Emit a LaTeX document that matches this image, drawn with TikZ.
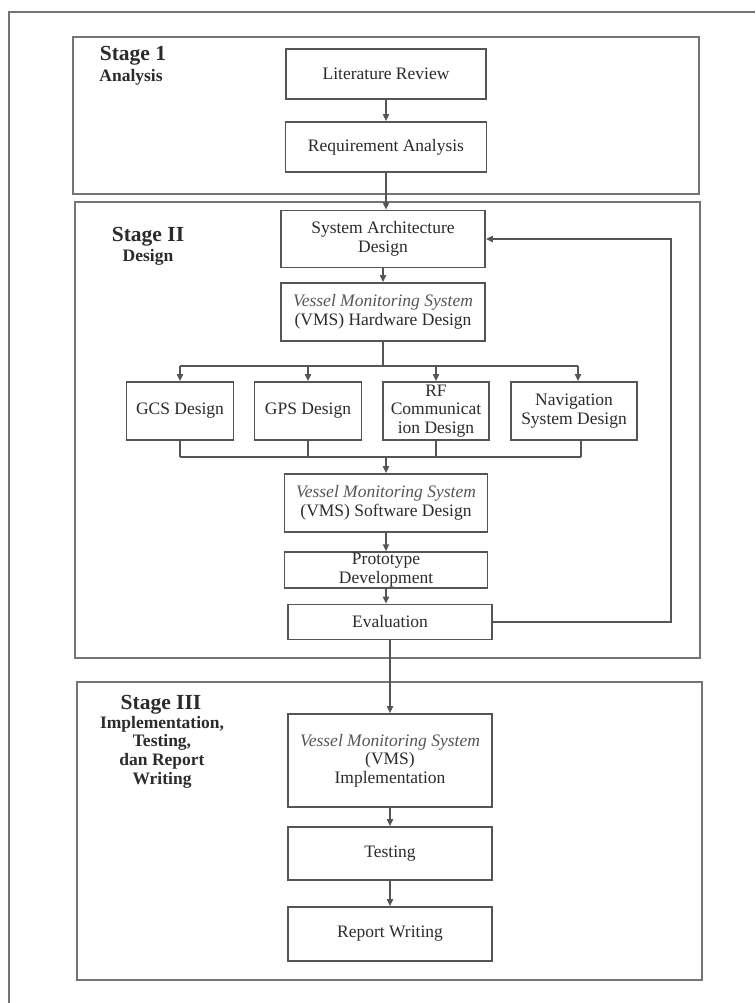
\documentclass[tikz,border=0pt]{standalone}
\usepackage{fontspec}
\setmainfont{Liberation Serif}
\usetikzlibrary{arrows.meta}
\definecolor{ln}{HTML}{555555}
\definecolor{fr}{HTML}{747474}
\definecolor{tx}{HTML}{2B2B2B}
\definecolor{it}{HTML}{555555}
\newcommand\bodyfnt{\fontsize{17.5}{18.6}\selectfont}
\newcommand\stagefnt{\fontsize{21.5}{24}\selectfont\bfseries}
\newcommand\subfnt{\fontsize{17.5}{18.7}\selectfont\bfseries}
\newcommand\vms{{\color{it}\itshape Vessel Monitoring System}}
\begin{document}
\begin{tikzpicture}[x=1pt,y=-1pt,
  box/.style={draw=ln, line width=1.6pt, fill=white, text=tx, align=center, inner sep=1pt, font=\bodyfnt},
  stagebox/.style={draw=fr, line width=1.8pt},
  frameline/.style={draw=fr, line width=1.6pt},
  conn/.style={draw=ln, line width=1.6pt},
  arr/.style={draw=ln, line width=1.6pt, -{Triangle[length=7pt,width=6pt]}},
  stagelbl/.style={text=tx, align=center, inner sep=0pt}]
\useasboundingbox (0,0) rectangle (755,1003);
\fill[white] (0,0) rectangle (755,1003);
% outer frame (only left and top visible)
\draw[frameline] (9,1003) -- (9,12) -- (755,12);
% stage boxes
\draw[stagebox] (73,37) rectangle (699,194);
\draw[stagebox] (75,202) rectangle (700,658);
\draw[stagebox] (77,682) rectangle (702,980);
% stage labels
\node[stagelbl, font=\stagefnt] (s1t) at (133,56) {Stage 1};
\node[stagelbl, font=\subfnt] (s1s) at (131,77) {Analysis};
\node[stagelbl, font=\stagefnt] (s2t) at (148,237) {Stage II};
\node[stagelbl, font=\subfnt] (s2s) at (148,257) {Design};
\node[stagelbl, font=\stagefnt] (s3t) at (161,705) {Stage III};
\node[stagelbl, font=\subfnt] (s3s) at (162,752) {Implementation,\\Testing,\\dan Report\\Writing};
% stage 1
\node[box, minimum width=200pt, minimum height=50pt] (lit) at (386,74) {Literature Review};
\node[box, minimum width=201pt, minimum height=50pt] (req) at (386,147) {Requirement Analysis};
% stage 2
\node[box, minimum width=204pt, minimum height=57pt] (sad) at (383,239) {System Architecture\\Design};
\node[box, minimum width=204pt, minimum height=58pt] (hw) at (383,312) {\vms\\(VMS) Hardware Design};
\node[box, minimum width=107pt, minimum height=58pt] (gcs) at (180,411) {GCS Design};
\node[box, minimum width=107pt, minimum height=58pt] (gps) at (308,411) {GPS Design};
\node[box, minimum width=106pt, minimum height=58pt] (rf) at (436,411) {RF\\Communicat\\ion Design};
\node[box, minimum width=126pt, minimum height=58pt] (nav) at (574,411) {Navigation\\System Design};
\node[box, minimum width=203pt, minimum height=58pt] (sw) at (386,503) {\vms\\(VMS) Software Design};
\node[box, minimum width=203pt, minimum height=35pt] (proto) at (386,570) {Prototype\\Development};
\node[box, minimum width=204pt, minimum height=35pt] (eval) at (390,622) {Evaluation};
% stage 3
\node[box, minimum width=204pt, minimum height=93pt] (impl) at (390,760.5) {\vms\\(VMS)\\Implementation};
\node[box, minimum width=204pt, minimum height=53pt] (test) at (390,853.5) {Testing};
\node[box, minimum width=204pt, minimum height=54pt] (rep) at (390,934) {Report Writing};
% helper coordinates
\coordinate (bl) at (180,366);
\coordinate (br) at (578,366);
\coordinate (ml) at (180,457);
\coordinate (mr) at (581,457);
\coordinate (fbx) at (671,430);
% connectors
\draw[arr] (lit.south) -- (lit.south |- req.north);
\draw[arr] (req.south) -- (req.south |- sad.north);
\draw[arr] (sad.south) -- (sad.south |- hw.north);
\draw[conn] (hw.south) -- (hw.south |- bl);
\draw[conn] (bl) -- (br);
\draw[arr] (bl) -- (bl |- gcs.north);
\draw[arr] (gps.north |- bl) -- (gps.north);
\draw[arr] (rf.north |- bl) -- (rf.north);
\draw[arr] (br) -- (br |- nav.north);
\draw[conn] (ml |- gcs.south) -- (ml);
\draw[conn] (gps.south) -- (gps.south |- ml);
\draw[conn] (rf.south) -- (rf.south |- ml);
\draw[conn] (mr |- nav.south) -- (mr);
\draw[conn] (ml) -- (mr);
\draw[arr] (sw.north |- ml) -- (sw.north);
\draw[arr] (sw.south) -- (sw.south |- proto.north);
\draw[arr] (proto.south) -- (proto.south |- eval.north);
\draw[arr] (eval.east) -| (fbx) |- (sad.east);
\draw[arr] (eval.south) -- (eval.south |- impl.north);
\draw[arr] (impl.south) -- (impl.south |- test.north);
\draw[arr] (test.south) -- (test.south |- rep.north);
\end{tikzpicture}
\end{document}
